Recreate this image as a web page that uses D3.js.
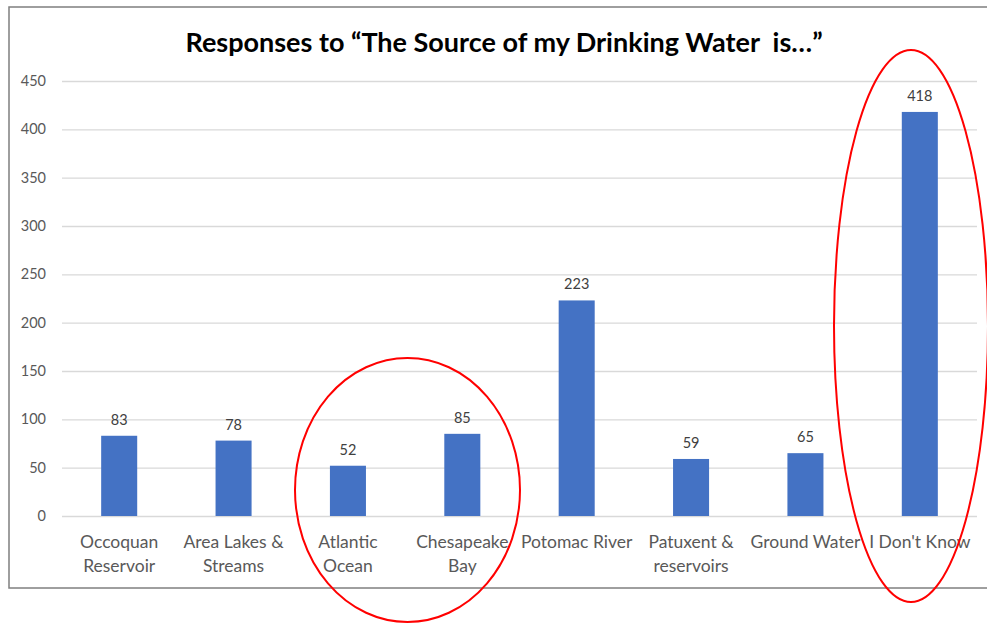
<!DOCTYPE html>
<html>
<head>
<meta charset="utf-8">
<script src="https://cdn.jsdelivr.net/npm/d3@7"></script>
<style>
  html, body { margin: 0; padding: 0; background: #fff; }
  svg { display: block; }
</style>
</head>
<body>
<svg id="chart" width="987" height="624"></svg>
<script>
// Survey responses: where respondents think their drinking water comes from
const categories = [
  ["Occoquan", "Reservoir"],
  ["Area Lakes &", "Streams"],
  ["Atlantic", "Ocean"],
  ["Chesapeake", "Bay"],
  ["Potomac River"],
  ["Patuxent &", "reservoirs"],
  ["Ground Water"],
  ["I Don't Know"]
];
const responses = [83, 78, 52, 85, 223, 59, 65, 418];
const yTicks = [0, 50, 100, 150, 200, 250, 300, 350, 400, 450];
const titleText = "Responses to \u201CThe Source of my Drinking Water\u00A0 is\u2026\u201D";

const svg = d3.select("#chart");
const fontFamily = "Lato, 'Open Sans', sans-serif";

// outer frame
svg.append("rect")
  .attr("x", 9).attr("y", 7)
  .attr("width", 990).attr("height", 581)
  .attr("fill", "none")
  .attr("stroke", "#7f7f7f")
  .attr("stroke-width", 1.5);

const plot = { left: 62, right: 977, top: 81, bottom: 516 };

const x = d3.scaleBand()
  .domain(d3.range(categories.length))
  .range([plot.left, plot.right])
  .paddingInner(0.685)
  .paddingOuter(0.3425);

const y = d3.scaleLinear()
  .domain([0, 450])
  .range([plot.bottom, plot.top]);

// title
svg.append("text")
  .attr("x", 504).attr("y", 52)
  .attr("text-anchor", "middle")
  .attr("font-family", fontFamily)
  .attr("font-weight", "bold")
  .attr("font-size", 27)
  .attr("fill", "#000")
  .text(titleText);

// gridlines + y labels via axis
const yAxis = d3.axisLeft(y)
  .tickValues(yTicks)
  .tickSize(-(plot.right - plot.left))
  .tickPadding(16)
  .tickFormat(d3.format("d"));

const gy = svg.append("g")
  .attr("transform", `translate(${plot.left},0)`)
  .call(yAxis);
gy.select(".domain").remove();
gy.selectAll(".tick line").attr("stroke", "#d9d9d9").attr("stroke-width", 1.3);
gy.selectAll(".tick text")
  .attr("font-family", fontFamily)
  .attr("font-size", 14.5)
  .attr("fill", "#595959");

// bars
svg.append("g").selectAll("rect")
  .data(responses)
  .join("rect")
  .attr("x", (d, i) => x(i))
  .attr("width", x.bandwidth())
  .attr("y", d => y(d))
  .attr("height", d => y(0) - y(d))
  .attr("fill", "#4472c4");

// value labels
svg.append("g").selectAll("text")
  .data(responses)
  .join("text")
  .attr("x", (d, i) => x(i) + x.bandwidth() / 2)
  .attr("y", d => y(d) - 11)
  .attr("text-anchor", "middle")
  .attr("font-family", fontFamily)
  .attr("font-size", 14.5)
  .attr("fill", "#404040")
  .text(d => d);

// category labels
const xl = svg.append("g").selectAll("text")
  .data(categories)
  .join("text")
  .attr("x", (d, i) => x(i) + x.bandwidth() / 2)
  .attr("y", 548)
  .attr("text-anchor", "middle")
  .attr("font-family", fontFamily)
  .attr("font-size", 17.5)
  .attr("fill", "#595959");
xl.selectAll("tspan")
  .data(d => d)
  .join("tspan")
  .attr("x", function () { return d3.select(this.parentNode).attr("x"); })
  .attr("dy", (d, j) => j === 0 ? 0 : 24)
  .text(d => d);

// red highlight ellipses
const highlights = [
  { cx: 407.5, cy: 490, rx: 112.5, ry: 132 },
  { cx: 911, cy: 326, rx: 77, ry: 276 }
];
svg.append("g").selectAll("ellipse")
  .data(highlights)
  .join("ellipse")
  .attr("cx", d => d.cx).attr("cy", d => d.cy)
  .attr("rx", d => d.rx).attr("ry", d => d.ry)
  .attr("fill", "none")
  .attr("stroke", "#ff0000")
  .attr("stroke-width", 2);
</script>
</body>
</html>
